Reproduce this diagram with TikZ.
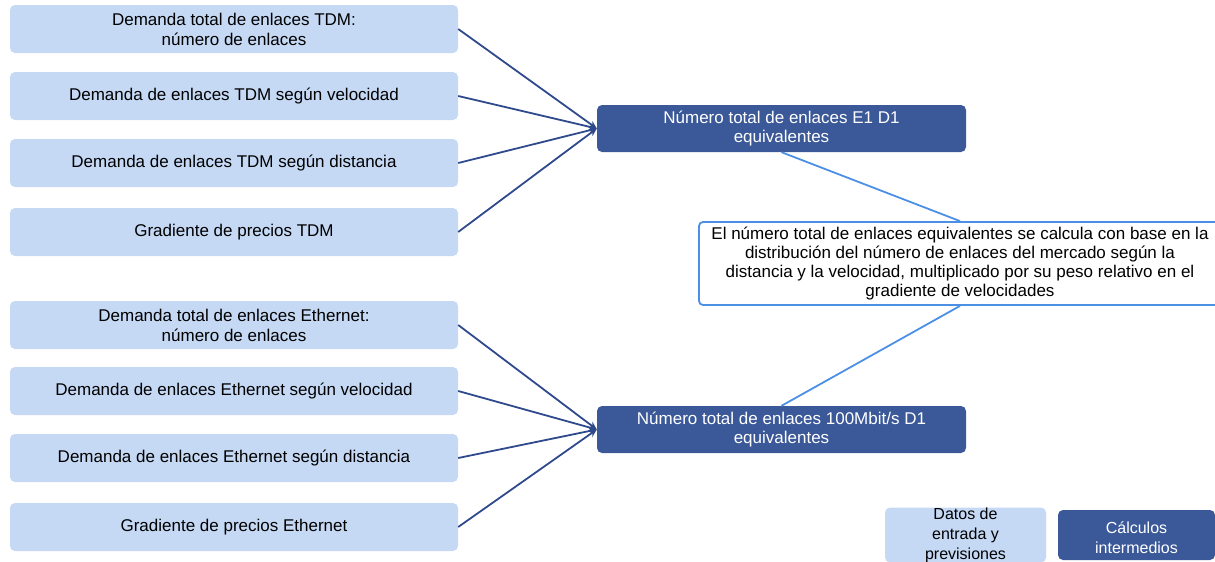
\documentclass[tikz,border=0pt]{standalone}
\usepackage{fontspec}
\setmainfont{Liberation Sans}
\usetikzlibrary{arrows.meta}

\definecolor{inputfill}{HTML}{C5D9F5}
\definecolor{calcfill}{HTML}{3B5999}
\definecolor{feedline}{HTML}{2E4A8C}
\definecolor{noteline}{HTML}{4C90E6}

\tikzset{
  inbox/.style={fill=inputfill, rounded corners=5pt, minimum width=448pt, minimum height=48pt,
    align=center, inner sep=0pt, font=\fontsize{17}{20}\selectfont},
  calcbox/.style={fill=calcfill, text=white, rounded corners=5pt, minimum width=369pt, minimum height=47pt,
    align=center, inner sep=0pt, font=\fontsize{17}{19}\selectfont},
  notebox/.style={draw=noteline, line width=1.8pt, fill=white, rounded corners=4pt, minimum width=522pt,
    minimum height=83pt, align=center, inner sep=0pt, font=\fontsize{17}{19}\selectfont},
  keybox/.style={rounded corners=5pt, minimum height=50pt, align=center, inner sep=0pt,
    font=\fontsize{16}{20}\selectfont},
  feed/.style={draw=feedline, line width=1.8pt, -{Stealth[length=8pt,width=7pt]}},
  link/.style={draw=noteline, line width=1.8pt}
}

\begin{document}
\begin{tikzpicture}[x=1pt,y=-1pt]
\useasboundingbox (0,0) rectangle (1215,562);

% datos de entrada
\node[inbox] (tdmA) at (234,29) {Demanda total de enlaces TDM:\\número de enlaces};
\node[inbox] (tdmB) at (234,96) {Demanda de enlaces TDM según velocidad};
\node[inbox] (tdmC) at (234,163) {Demanda de enlaces TDM según distancia};
\node[inbox] (tdmD) at (234,232) {Gradiente de precios TDM};
\node[inbox] (ethA) at (234,325) {Demanda total de enlaces Ethernet:\\número de enlaces};
\node[inbox] (ethB) at (234,391) {Demanda de enlaces Ethernet según velocidad};
\node[inbox] (ethC) at (234,458) {Demanda de enlaces Ethernet según distancia};
\node[inbox] (ethD) at (234,527) {Gradiente de precios Ethernet};

% calculos
\node[calcbox] (tdmTotal) at (781.5,128.5) {Número total de enlaces E1 D1\\equivalentes};
\node[calcbox] (ethTotal) at (781.5,429.5) {Número total de enlaces 100Mbit/s D1\\equivalentes};

\node[notebox] (note) at (960,263.5) {El número total de enlaces equivalentes se calcula con base en la\\
  distribución del número de enlaces del mercado según la\\
  distancia y la velocidad, multiplicado por su peso relativo en el\\
  gradiente de velocidades};

\draw[link] (tdmTotal.south) -- (note.north);
\draw[link] (note.south) -- (ethTotal.north);

\foreach \src in {tdmA,tdmB,tdmC,tdmD}
    \draw[feed] (\src.east) -- (tdmTotal.west);
\foreach \src in {ethA,ethB,ethC,ethD}
    \draw[feed] (\src.east) -- (ethTotal.west);

% leyenda
\node[keybox, fill=inputfill, minimum width=161pt] (keyIn) at (965.5,535) {Datos de\\entrada y\\previsiones};
\node[keybox, fill=calcfill, text=white, minimum width=157pt] (keyCalc) at (1136.5,535) {\rule{0pt}{18pt}Cálculos\\intermedios};
\end{tikzpicture}
\end{document}
